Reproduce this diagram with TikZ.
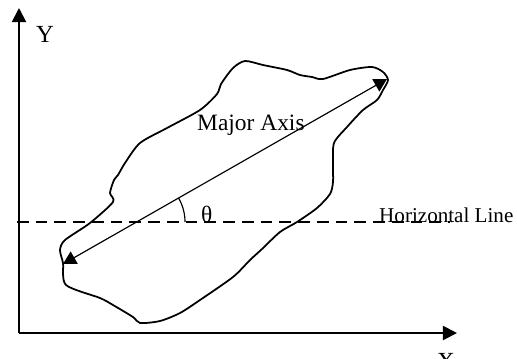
\documentclass[tikz,border=0pt]{standalone}
\usepackage{fontspec}
\setmainfont{Liberation Serif}
\usetikzlibrary{arrows.meta}

\begin{document}
\begin{tikzpicture}[
  x=0.03cm, y=-0.03cm,
  lbl/.style={inner sep=0pt, anchor=base west, font=\fontsize{18}{21}\selectfont},
  axis/.style={-{Triangle[length=12pt, width=12pt]}, line width=1.6pt},
  major/.style={{Triangle[length=11pt, width=12pt]}-{Triangle[length=11pt, width=12pt]}, line width=1pt},
  outline/.style={line width=1.5pt, line join=round},
  hline/.style={line width=1.5pt, dash pattern=on 10pt off 6pt}
]
\useasboundingbox (0,0) rectangle (517,358);

% axes
\coordinate (origin) at (19,333);
\coordinate (ytip) at (19,8);
\coordinate (xtip) at (457,333);
\draw[axis] (origin) -- (ytip);
\draw[axis] (origin) -- (xtip);
\node[lbl, font=\fontsize{21}{24}\selectfont] (ylabel) at (36,42) {Y};
\node[lbl, font=\fontsize{21}{24}\selectfont] (xlabel) at (437,369) {X};

% horizontal line
\coordinate (hstart) at (17,222);
\coordinate (hend) at (450,222);
\draw[hline] (hstart) -- (hend);
\node[lbl] (hlabel) at (379,222) {Horizontal Line};

% object outline
\draw[outline] plot[smooth cycle, tension=0.45] coordinates {
  (245,61) (263,65) (287,70) (300,75) (312,77) (323,79) (350,70) (372,67)
  (383,72) (388,80) (383,90) (377,100) (363,110) (347,127) (334,143)
  (333,165) (333,182) (330,194) (317,208) (297,222) (280,232) (262,249)
  (250,260) (233,277) (200,300) (180,313) (160,321) (140,323) (133,317)
  (113,305) (100,298) (66,285) (63,263) (60,250) (65,240) (90,223)
  (113,202) (110,193) (114,180) (118,175) (125,163) (140,143) (167,128)
  (200,110) (217,94) (221,84) (233,68)};

% major axis
\coordinate (mstart) at (63,264);
\coordinate (mend) at (387,79);
\draw[major] (mstart) -- (mend);
\node[lbl, font=\fontsize{20}{23}\selectfont] (mlabel) at (197,130) {Major Axis};

% angle
\coordinate (cross) at (137,222);
\draw[line width=1pt] (185,222) arc[start angle=0, end angle=30, radius=1.44cm];
\node[lbl, font=\fontsize{20}{23}\selectfont] (theta) at (201,222) {θ};
\end{tikzpicture}
\end{document}
